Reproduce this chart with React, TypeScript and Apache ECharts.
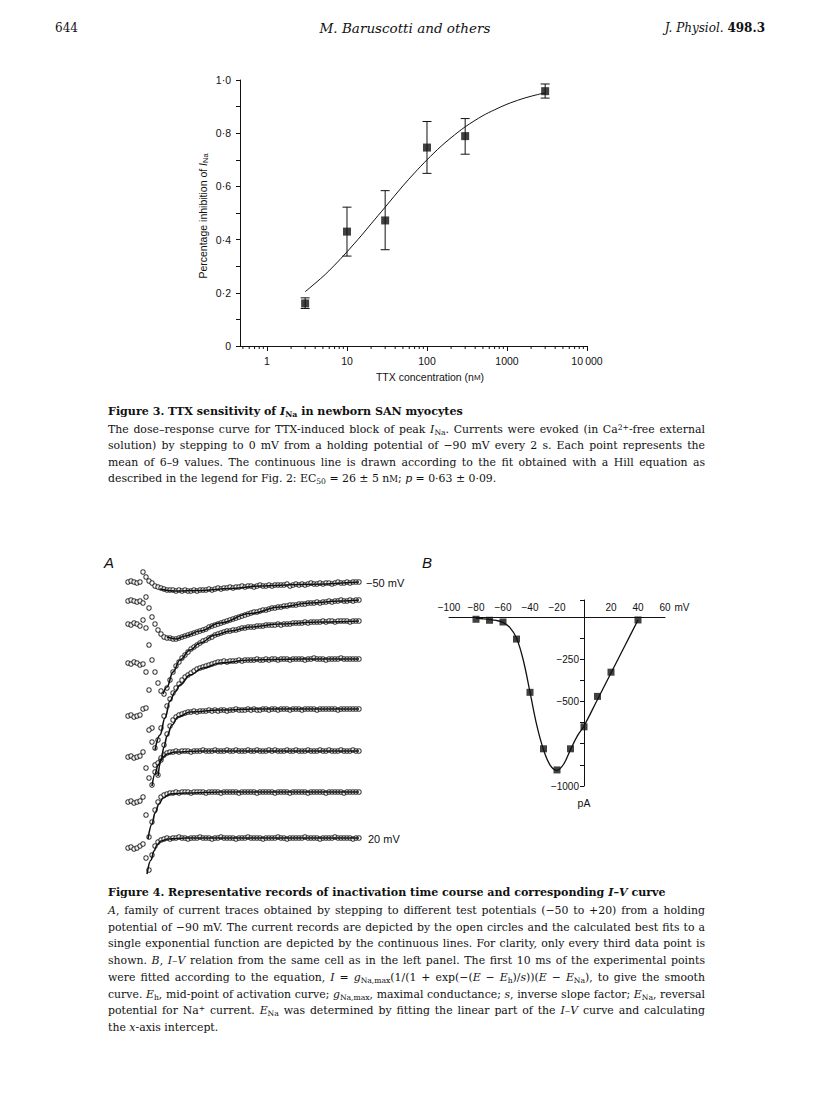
import React, { useEffect, useRef } from 'react';
import * as echarts from 'echarts';

// ---------- Figure 3 : TTX dose-response ----------
const ttxConc = [3, 10, 30, 100, 300, 3000];
const inhibMean = [0.16, 0.43, 0.472, 0.746, 0.789, 0.958];
const inhibLow = [0.141, 0.338, 0.362, 0.649, 0.721, 0.932];
const inhibHigh = [0.181, 0.522, 0.584, 0.844, 0.855, 0.985];
const hillConc = [3, 5, 7, 10, 15, 20, 30, 50, 70, 100, 150, 200, 300, 500, 700, 1000, 1500, 2000, 3000];
const hillFit = [0.204, 0.261, 0.304, 0.354, 0.414, 0.459, 0.522, 0.602, 0.651, 0.7, 0.751, 0.783, 0.824, 0.866, 0.888, 0.909, 0.928, 0.939, 0.952];
const logMinorTicks = [0.5, 0.6, 0.7, 0.8, 0.9, 2, 3, 4, 5, 6, 7, 8, 9, 20, 30, 40, 50, 60, 70, 80, 90, 200, 300, 400, 500, 600, 700, 800, 900, 2000, 3000, 4000, 5000, 6000, 7000, 8000, 9000];

// ---------- Figure 4A : current traces (every third sample) ----------
const sampleIntervalMs = 0.6;
const traceLabels = ['\u221250 mV', '20 mV'];
const traceOffsets = [-17, -36, -59, -98, -151, -192, -237, -283];
const traceM50 = [0, 1, 0, -1, 0, 10, 5, 1, -1, -4, -5, -6, -7, -8, -8, -8, -9, -8, -9, -8, -9, -9, -8, -9, -8, -8, -8, -7, -8, -7, -6, -7, -6, -6, -5, -6, -5, -5, -4, -5, -4, -4, -5, -4, -3, -4, -4, -3, -4, -3, -3, -3, -3, -2, -4, -3, -2, -3, -2, -3, -2, -1, -2, -2, -1, -2, -1, -1, -2, -1, 0, -1, -1, 0, -1, 0, 0, 0];
const traceM40 = [0, 1, 0, -1, 0, -2, 4, -7, -16, -23, -29, -33, -36, -37, -37, -38, -38, -37, -36, -35, -34, -33, -32, -31, -30, -29, -28, -26, -25, -24, -23, -22, -21, -20, -19, -18, -17, -16, -15, -14, -13, -12, -11, -11, -10, -9, -9, -8, -7, -7, -6, -6, -5, -5, -4, -4, -4, -3, -3, -3, -2, -2, -2, -1, -2, -1, -1, 0, -1, 0, 0, 1, 0, 0, 1, 0, 1, 1];
const traceM30 = [0, -1, 1, 0, -2, 4, -4, -21, -36, -48, -59, -67, -70, -64, -56, -48, -42, -38, -34, -31, -28, -25, -23, -21, -19, -17, -16, -14, -13, -11, -10, -9, -8, -7, -7, -6, -6, -5, -4, -4, -3, -3, -3, -2, -2, -2, -1, -1, -1, -1, 0, -1, 0, 0, 0, 1, 1, 1, 1, 2, 1, 2, 2, 2, 2, 3, 2, 3, 3, 2, 3, 3, 3, 3, 2, 3, 3, 3];
const traceM20 = [0, -1, 1, 0, -2, -1, -9, -27, -65, -85, -77, -65, -53, -43, -36, -30, -25, -21, -17, -14, -12, -10, -8, -6, -5, -4, -3, -2, -1, 0, 1, 1, 2, 1, 2, 2, 2, 3, 2, 3, 3, 3, 3, 4, 3, 3, 4, 3, 4, 4, 3, 4, 4, 4, 3, 4, 4, 4, 4, 3, 4, 4, 5, 4, 4, 4, 3, 4, 4, 4, 4, 5, 4, 4, 4, 4, 4, 4];
const traceM10 = [0, 1, -1, 0, 1, 7, 8, -14, -26, -49, -59, -44, -29, -18, -10, -4, -1, 1, 2, 3, 4, 4, 5, 4, 5, 5, 5, 6, 5, 6, 5, 6, 6, 5, 6, 6, 7, 6, 6, 6, 7, 6, 7, 6, 6, 7, 7, 6, 7, 7, 6, 7, 7, 7, 6, 7, 7, 7, 6, 7, 7, 7, 7, 6, 7, 7, 7, 7, 7, 7, 6, 7, 7, 7, 7, 7, 7, 7];
const trace0 = [0, 1, -1, 0, 1, 5, -11, -21, -28, -15, -6, -1, 2, 4, 5, 5, 6, 5, 6, 6, 6, 5, 6, 6, 6, 7, 6, 6, 6, 7, 6, 6, 6, 7, 6, 6, 7, 6, 6, 6, 7, 6, 6, 7, 6, 6, 6, 7, 6, 7, 6, 6, 6, 7, 6, 6, 7, 6, 6, 6, 7, 6, 6, 6, 7, 6, 6, 7, 6, 6, 6, 7, 6, 6, 6, 7, 6, 6];
const traceP10 = [0, 1, -1, 0, 1, 5, -13, -35, -20, -8, 0, 5, 7, 8, 9, 9, 10, 9, 10, 10, 10, 9, 10, 10, 10, 10, 9, 10, 10, 10, 10, 9, 10, 10, 10, 10, 10, 9, 10, 10, 10, 10, 10, 9, 10, 10, 10, 10, 10, 9, 10, 10, 10, 10, 9, 10, 10, 10, 10, 10, 9, 10, 10, 10, 10, 10, 9, 10, 10, 10, 10, 10, 9, 10, 10, 10, 10, 10];
const traceP20 = [0, 1, -1, 0, 2, 4, -10, -22, -7, 2, 6, 8, 9, 10, 9, 10, 10, 11, 10, 10, 9, 10, 10, 10, 11, 10, 10, 10, 9, 10, 10, 11, 10, 10, 10, 10, 9, 10, 10, 10, 11, 10, 10, 10, 10, 9, 10, 10, 10, 10, 11, 10, 10, 9, 10, 10, 10, 10, 10, 11, 10, 10, 10, 10, 9, 10, 10, 10, 10, 11, 10, 10, 10, 10, 10, 9, 10, 10];
const fitTimes = [
  [6.4, 9.4, 14.4, 20.4, 26.4, 34.4, 46.2],
  [7.8, 9.6, 11.4, 14.4, 18.4, 24.4, 30.4, 36.4, 42.4, 46.2],
  [7, 7.8, 9, 10.4, 12.4, 14.4, 17.4, 20.4, 24.4, 30.4, 38.4, 46.2],
  [5.4, 6.4, 7.4, 8.4, 9.4, 10.4, 12.4, 15, 18.4, 24.4, 34.4, 46.2],
  [6, 6.6, 7.2, 7.8, 8.8, 10, 12.4, 18.4, 26.4, 46.2],
  [4.8, 5.4, 6, 6.8, 7.8, 9.4, 14.4, 46.2],
  [4, 4.8, 5.4, 6.2, 7, 8.4, 11.4, 18.4, 46.2],
  [3.8, 4.6, 5.2, 5.8, 6.6, 8, 11.4, 46.2],
];
const fitValues = [
  [-7, -9, -8.5, -6.5, -4, -2.5, 0],
  [-36, -38, -35, -30, -22, -12.5, -6, -2, 0, 1],
  [-70, -63, -48, -36, -26, -19, -11, -7, -3, 0, 2, 3],
  [-87, -72, -55, -38, -29, -22, -12, -5, 0, 3, 4, 4],
  [-60, -45, -31, -20, -9, -1, 4, 6, 7, 7],
  [-29, -17, -8, -1, 3, 5, 6, 6],
  [-37, -22, -11, -2, 4, 8, 9, 10, 10],
  [-26, -12, -3, 3, 7, 9, 10, 10],
];

// ---------- Figure 4B : I-V relation ----------
const ivVoltage = [-80, -70, -60, -50, -40, -30, -20, -10, 0, 10, 20, 40];
const ivCurrent = [-14, -20, -30, -131, -446, -780, -905, -780, -650, -470, -327, -18];
const ivFitVoltage = [-80, -75, -70, -65, -60, -55, -50, -45, -40, -35, -30, -25, -20, -15, -10, -5, 0, 10, 20, 30, 40];
const ivFitCurrent = [-8, -11, -15, -21, -32, -62, -125, -255, -445, -640, -785, -878, -908, -870, -785, -705, -645, -488, -332, -175, -18];

const ink = '#111';
const sans = '"Liberation Sans", Arial, Helvetica, sans-serif';

function buildOption(): any {
  const traces = [traceM50, traceM40, traceM30, traceM20, traceM10, trace0, traceP10, traceP20];
  const series: any[] = [];

  // Figure 3
  series.push({
    type: 'line', xAxisIndex: 0, yAxisIndex: 0,
    data: hillConc.map((c, i) => [c, hillFit[i]]),
    smooth: 0.3, symbol: 'none', lineStyle: { color: ink, width: 1 }, z: 2,
  });
  series.push({
    type: 'custom', xAxisIndex: 0, yAxisIndex: 0, clip: false,
    data: ttxConc.map((c, i) => [c, inhibLow[i], inhibHigh[i]]),
    renderItem: (params: any, api: any) => {
      const lo = api.coord([api.value(0), api.value(1)]);
      const hi = api.coord([api.value(0), api.value(2)]);
      const w = 4.5;
      const st = { stroke: ink, lineWidth: 1 };
      return {
        type: 'group',
        children: [
          { type: 'line', shape: { x1: lo[0], y1: lo[1], x2: hi[0], y2: hi[1] }, style: st },
          { type: 'line', shape: { x1: lo[0] - w, y1: lo[1], x2: lo[0] + w, y2: lo[1] }, style: st },
          { type: 'line', shape: { x1: hi[0] - w, y1: hi[1], x2: hi[0] + w, y2: hi[1] }, style: st },
        ],
      };
    },
    z: 3,
  });
  series.push({
    type: 'scatter', xAxisIndex: 0, yAxisIndex: 0,
    data: ttxConc.map((c, i) => [c, inhibMean[i]]),
    symbol: 'rect', symbolSize: 8, itemStyle: { color: ink }, z: 4,
  });
  series.push({
    type: 'custom', xAxisIndex: 0, yAxisIndex: 0, clip: false,
    data: logMinorTicks.map((v) => [v, 0]),
    renderItem: (params: any, api: any) => {
      const p = api.coord([api.value(0), api.value(1)]);
      return { type: 'line', shape: { x1: p[0], y1: p[1], x2: p[0], y2: p[1] + 3 }, style: { stroke: ink, lineWidth: 1 } };
    },
    z: 3,
  });

  // Figure 4A
  traces.forEach((arr, k) => {
    series.push({
      type: 'scatter', xAxisIndex: 1, yAxisIndex: 1,
      data: arr.map((v, i) => [i * sampleIntervalMs, traceOffsets[k] + v]),
      symbol: 'circle', symbolSize: 4.4,
      itemStyle: { color: '#fff', borderColor: ink, borderWidth: 1.1 }, z: 2,
    });
    series.push({
      type: 'line', xAxisIndex: 1, yAxisIndex: 1,
      data: fitTimes[k].map((t, i) => [t, traceOffsets[k] + fitValues[k][i]]),
      smooth: 0.4, smoothMonotone: 'x', symbol: 'none',
      lineStyle: { color: ink, width: 1.6 }, z: 3,
    });
  });

  // Figure 4B
  series.push({
    type: 'line', xAxisIndex: 2, yAxisIndex: 2,
    data: ivFitVoltage.map((v, i) => [v, ivFitCurrent[i]]),
    smooth: 0.35, symbol: 'none', lineStyle: { color: ink, width: 1.3 }, z: 2,
  });
  series.push({
    type: 'scatter', xAxisIndex: 2, yAxisIndex: 2,
    data: ivVoltage.map((v, i) => [v, ivCurrent[i]]),
    symbol: 'rect', symbolSize: 7, itemStyle: { color: ink }, z: 3,
  });

  const minus = (v: number) => (v < 0 ? '\u2212' + Math.abs(v) : String(v));

  return {
    animation: false,
    backgroundColor: 'transparent',
    textStyle: { fontFamily: sans, color: ink },
    grid: [
      { left: 240, top: 80, width: 347, height: 266 },
      { left: 128, top: 565, width: 232, height: 310 },
      { left: 449, top: 600, width: 216, height: 186 },
    ],
    xAxis: [
      {
        type: 'log', gridIndex: 0, min: 0.46, max: 10000, logBase: 10,
        axisLine: { lineStyle: { color: ink, width: 1 } },
        axisTick: { show: true, length: 5, lineStyle: { color: ink } },
        splitLine: { show: false },
        axisLabel: {
          showMinLabel: false, margin: 9, fontSize: 10.5, fontFamily: sans, color: ink,
          formatter: (v: number) => {
            if (v < 0.9) return '';
            const r = Math.round(v);
            return r === 10000 ? '10\u2009000' : String(r);
          },
        },
      },
      { type: 'value', gridIndex: 1, min: 0, max: 46.4, show: false },
      {
        type: 'value', gridIndex: 2, min: -100, max: 60, interval: 20, position: 'top', offset: -17,
        axisLine: { onZero: false, lineStyle: { color: ink, width: 1, type: 'solid' } },
        axisTick: { show: false },
        splitLine: { show: false },
        axisLabel: {
          margin: 5, fontSize: 10, fontFamily: sans, color: ink,
          formatter: (v: number) => (v === 0 ? '' : minus(v)),
        },
        name: 'mV', nameLocation: 'end', nameGap: 9,
        nameTextStyle: { fontSize: 10, fontFamily: sans, color: ink, verticalAlign: 'bottom', padding: [0, 0, 5, 0] },
      },
    ],
    yAxis: [
      {
        type: 'value', gridIndex: 0, min: 0, max: 1, interval: 0.1,
        axisLine: { show: true, lineStyle: { color: ink, width: 1 } },
        axisTick: { show: true, length: 4, lineStyle: { color: ink } },
        splitLine: { show: false },
        axisLabel: {
          margin: 9, fontSize: 10.5, fontFamily: sans, color: ink,
          formatter: (v: number) => {
            const n = Math.round(v * 10);
            if (n % 2 !== 0) return '';
            if (n === 0) return '0';
            return Math.floor(n / 10) + '\u00b7' + (n % 10);
          },
        },
      },
      { type: 'value', gridIndex: 1, min: -310, max: 0, show: false },
      {
        type: 'value', gridIndex: 2, min: -1000, max: 100, interval: 125, position: 'left', offset: -135,
        axisLine: { show: true, onZero: false, lineStyle: { color: ink, width: 1, type: 'solid' } },
        axisTick: { show: true, length: 4, lineStyle: { color: ink } },
        splitLine: { show: false },
        axisLabel: {
          margin: 5, fontSize: 10, fontFamily: sans, color: ink,
          formatter: (v: number) => (v === -250 || v === -500 || v === -1000 ? minus(v) : ''),
        },
        name: 'pA', nameLocation: 'start', nameGap: 11,
        nameTextStyle: { fontSize: 10.5, fontFamily: sans, color: ink },
      },
    ],
    graphic: {
      elements: [
        {
          type: 'text', x: 203, y: 216, rotation: Math.PI / 2,
          style: {
            text: 'Percentage inhibition of {i|I}{s|Na}',
            fontSize: 10.5, fontFamily: sans, fill: ink, align: 'center', verticalAlign: 'middle',
            rich: {
              i: { fontSize: 10.5, fontFamily: sans, fontStyle: 'italic', fill: ink },
              s: { fontSize: 7.5, fontFamily: sans, fill: ink, padding: [5, 0, 0, 0] },
            },
          },
        },
        {
          type: 'text', x: 430, y: 377,
          style: {
            text: 'TTX concentration (n{sc|M})',
            fontSize: 10.5, fontFamily: sans, fill: ink, align: 'center', verticalAlign: 'middle',
            rich: { sc: { fontSize: 8, fontFamily: sans, fill: ink } },
          },
        },
        { type: 'text', x: 104, y: 562, style: { text: 'A', fontSize: 15, fontStyle: 'italic', fontFamily: sans, fill: ink, verticalAlign: 'middle' } },
        { type: 'text', x: 422, y: 562, style: { text: 'B', fontSize: 15, fontStyle: 'italic', fontFamily: sans, fill: ink, verticalAlign: 'middle' } },
        { type: 'text', x: 366, y: 583, style: { text: traceLabels[0], fontSize: 11, fontFamily: sans, fill: ink, verticalAlign: 'middle' } },
        { type: 'text', x: 368, y: 839, style: { text: traceLabels[1], fontSize: 11, fontFamily: sans, fill: ink, verticalAlign: 'middle' } },
      ],
    },
    series,
  };
}

const serif = '"DejaVu Serif", "Liberation Serif", serif';
const subS: React.CSSProperties = { fontSize: '0.7em', verticalAlign: '-0.3em', lineHeight: 0 };
const supS: React.CSSProperties = { fontSize: '0.7em', verticalAlign: '0.45em', lineHeight: 0 };
const Sub = ({ children }: any) => <span style={subS}>{children}</span>;
const Sup = ({ children }: any) => <span style={supS}>{children}</span>;
const I = ({ children }: any) => <i>{children}</i>;

function Line({ top, children, last, bold }: any) {
  return (
    <div
      style={{
        position: 'absolute', left: 108, width: 597, top: top - 8, height: 16, lineHeight: '16px',
        fontFamily: serif, fontSize: bold ? 11.1 : 10.9, fontWeight: bold ? 'bold' : 'normal',
        whiteSpace: 'nowrap', textAlign: 'left', textAlignLast: last || bold ? 'left' : 'justify', color: ink,
      }}
    >
      {children}
    </div>
  );
}

export default function App() {
  const ref = useRef<HTMLDivElement>(null);
  useEffect(() => {
    const chart = echarts.init(ref.current!, null, { renderer: 'svg' });
    chart.setOption(buildOption());
    return () => chart.dispose();
  }, []);
  return (
    <div style={{ position: 'absolute', left: 0, top: 0, width: 816, height: 1110, background: '#fff', overflow: 'hidden' }}>
      <div ref={ref} style={{ position: 'absolute', left: 0, top: 0, width: 816, height: 1110 }} />
      <div style={{ position: 'absolute', left: 55, top: 21, fontFamily: serif, fontSize: 12, color: ink }}>644</div>
      <div style={{ position: 'absolute', left: 0, width: 816, top: 20, textAlign: 'center', fontFamily: serif, fontSize: 13.5, fontStyle: 'italic', color: ink }}>
        <span style={{ marginLeft: -6 }}>M. Baruscotti and others</span>
      </div>
      <div style={{ position: 'absolute', right: 51, top: 21, fontFamily: serif, fontSize: 12, color: ink }}>
        <i>J. Physiol.</i> <b>498.3</b>
      </div>

      <Line top={412} bold>Figure 3. TTX sensitivity of <I>I</I><Sub>Na</Sub> in newborn SAN myocytes</Line>
      <Line top={430}>The dose–response curve for TTX-induced block of peak <I>I</I><Sub>Na</Sub>. Currents were evoked (in Ca<Sup>2+</Sup>-free external</Line>
      <Line top={446}>solution) by stepping to 0 mV from a holding potential of −90 mV every 2 s. Each point represents the</Line>
      <Line top={463}>mean of 6–9 values. The continuous line is drawn according to the fit obtained with a Hill equation as</Line>
      <Line top={479} last>described in the legend for Fig. 2: EC<Sub>50</Sub> = 26 ± 5 n<span style={{ fontSize: '0.78em' }}>M</span>; <I>p</I> = 0·63 ± 0·09.</Line>

      <Line top={893} bold>Figure 4. Representative records of inactivation time course and corresponding <I>I–V</I> curve</Line>
      <Line top={911}><I>A</I>, family of current traces obtained by stepping to different test potentials (−50 to +20) from a holding</Line>
      <Line top={928}>potential of −90 mV. The current records are depicted by the open circles and the calculated best fits to a</Line>
      <Line top={944}>single exponential function are depicted by the continuous lines. For clarity, only every third data point is</Line>
      <Line top={961}>shown. <I>B</I>, <I>I–V</I> relation from the same cell as in the left panel. The first 10 ms of the experimental points</Line>
      <Line top={978}>were fitted according to the equation, <I>I</I> = <I>g</I><Sub>Na,max</Sub>(1/(1 + exp(−(<I>E</I> − <I>E</I><Sub>h</Sub>)/<I>s</I>))(<I>E</I> − <I>E</I><Sub>Na</Sub>), to give the smooth</Line>
      <Line top={995}>curve. <I>E</I><Sub>h</Sub>, mid-point of activation curve; <I>g</I><Sub>Na,max</Sub>, maximal conductance; <I>s</I>, inverse slope factor; <I>E</I><Sub>Na</Sub>, reversal</Line>
      <Line top={1011}>potential for Na<Sup>+</Sup> current. <I>E</I><Sub>Na</Sub> was determined by fitting the linear part of the <I>I–V</I> curve and calculating</Line>
      <Line top={1028} last>the <I>x</I>-axis intercept.</Line>
    </div>
  );
}
